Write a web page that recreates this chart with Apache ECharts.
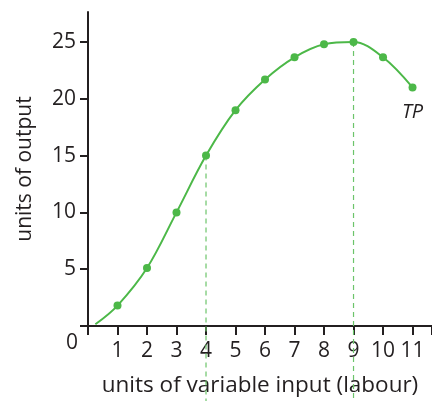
<!DOCTYPE html>
<html>
<head>
<meta charset="utf-8">
<script src="https://cdn.jsdelivr.net/npm/echarts@6/dist/echarts.min.js"></script>
<style>
  html, body { margin: 0; padding: 0; background: #fff; }
  #chart { width: 432px; height: 401px; }
</style>
</head>
<body>
<div id="chart"></div>
<script>
// Total product of labour
const labourUnits = [0.25, 1, 2, 3, 4, 5, 6, 7, 8, 9, 10, 11];
const totalProduct = [0.15, 1.8, 5.1, 10, 15, 19, 21.7, 23.65, 24.8, 25, 23.65, 21];
const xLabelValues = [1, 2, 3, 4, 5, 6, 7, 8, 9, 10, 11];
const yTickValues = [0, 5, 10, 15, 20, 25];
const yLabelValues = [5, 10, 15, 20, 25];
// Guide lines drop from these points to below the axis
const guideX = [4, 9];
const guideTop = [15, 25];
const guideBottom = -6.6;

const FONT = '"Open Sans", sans-serif';
const INK = '#231f20';
const GREEN = '#4cb848';

const chart = echarts.init(document.getElementById('chart'), null, { renderer: 'canvas' });

const guideSeries = guideX.map((x, i) => ({
  type: 'line',
  data: [[x, guideTop[i]], [x, guideBottom]],
  clip: false,
  symbol: 'none',
  silent: true,
  z: 1,
  lineStyle: { color: '#6cc46a', width: 1.2, type: [5, 4] }
}));

const tpData = labourUnits.map((x, i) => {
  const item = { value: [x, totalProduct[i]] };
  if (i === 0) item.symbolSize = 0;
  if (i === labourUnits.length - 1) {
    item.label = {
      show: true, formatter: 'TP', position: 'bottom', distance: 11,
      fontFamily: FONT, fontStyle: 'italic', fontSize: 20, color: INK
    };
  }
  return item;
});

chart.setOption({
  animation: false,
  grid: { left: 88, right: 0, top: 12, bottom: 75, containLabel: false, outerBoundsMode: 'none' },
  xAxis: {
    type: 'value', min: 0, max: 11.66, interval: 1,
    name: 'units of variable input (labour)',
    nameLocation: 'middle', nameGap: 48,
    nameTextStyle: { fontFamily: FONT, fontSize: 22.5, color: INK },
    axisLine: { show: true, lineStyle: { color: INK, width: 2 } },
    axisTick: { show: true, length: 9, inside: false, lineStyle: { color: INK, width: 2 } },
    axisLabel: { customValues: xLabelValues, margin: 15, fontFamily: FONT, fontSize: 21, color: INK },
    splitLine: { show: false }
  },
  yAxis: {
    type: 'value', min: 0, max: 27.64, interval: 5,
    name: 'units of output',
    nameLocation: 'middle', nameGap: 52, nameRotate: 90,
    nameTextStyle: { fontFamily: FONT, fontSize: 21, color: INK },
    axisLine: { show: true, lineStyle: { color: INK, width: 2 } },
    axisTick: { show: true, length: 8, customValues: yTickValues, lineStyle: { color: INK, width: 2 } },
    axisLabel: { customValues: yLabelValues, margin: 12, fontFamily: FONT, fontSize: 21, color: INK },
    splitLine: { show: false }
  },
  graphic: [{
    type: 'text', left: 66, top: 333,
    style: { text: '0', font: '21px "Open Sans", sans-serif', fill: INK }
  }],
  series: [
    ...guideSeries,
    {
      type: 'line',
      data: tpData,
      smooth: 0.35,
      symbol: 'circle',
      symbolSize: 8,
      z: 3,
      itemStyle: { color: GREEN },
      lineStyle: { color: GREEN, width: 2 }
    }
  ]
});
</script>
</body>
</html>
